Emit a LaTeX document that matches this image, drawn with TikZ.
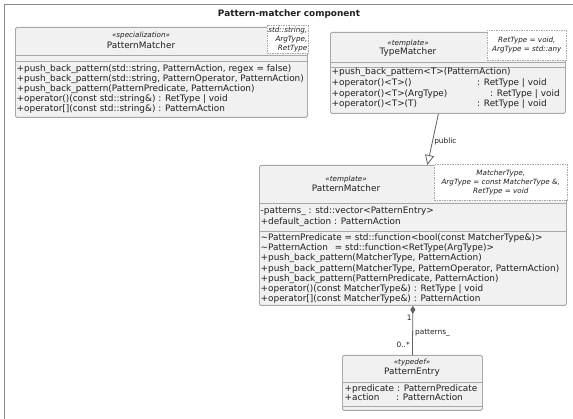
\documentclass[tikz,border=0pt]{standalone}
\usepackage{fontspec}
\setmainfont{DejaVu Sans}
\usepackage{xcolor}
\usepackage{tikz}
\usetikzlibrary{arrows.meta}

\definecolor{boxfill}{HTML}{F1F1F1}
\definecolor{boxline}{HTML}{A8A8A8}
\definecolor{framegray}{HTML}{8A8A8A}
\definecolor{edgegray}{HTML}{606060}
\definecolor{inkgray}{HTML}{202020}

\newcommand{\memfont}{\fontsize{8.9}{10.2}\selectfont}
\newcommand{\stereofont}{\fontsize{7.2}{8}\selectfont\itshape}
\newcommand{\tparamfont}{\fontsize{7.2}{9}\selectfont\itshape}
\newcommand{\edgefont}{\fontsize{7.4}{8}\selectfont}
\newcommand{\titlefont}{\fontsize{8.9}{10}\selectfont\bfseries}

\tikzset{
  classbox/.style={draw=boxline, fill=boxfill, line width=0.8pt, rounded corners=1.5pt, anchor=north west, inner sep=0pt},
  tparam/.style={draw=boxline, fill=white, line width=0.6pt, dash pattern=on 1.5pt off 1pt, anchor=north west, inner xsep=1pt, inner ysep=0pt, font=\tparamfont, text=inkgray},
  sepline/.style={draw=boxline, line width=0.8pt},
  member/.style={anchor=base west, inner sep=0pt, font=\memfont, text=inkgray},
  cname/.style={anchor=base, inner sep=0pt, font=\memfont, text=inkgray},
  stereo/.style={anchor=base, inner sep=0pt, font=\stereofont, text=inkgray},
  edgelabel/.style={inner sep=0pt, font=\edgefont, text=inkgray},
  inherit/.style={draw=edgegray, line width=0.8pt, -{Triangle[open, length=10pt, width=9pt, fill=white]}},
  compos/.style={draw=edgegray, line width=0.8pt, {Diamond[length=8pt, width=5pt]}-},
}

\begin{document}
\begin{tikzpicture}[x=1pt, y=-1pt]
  \useasboundingbox (0,0) rectangle (573,419);
  \clip (0,0) rectangle (573,419);
  \fill[white] (0,0) rectangle (573,419);
  \draw[framegray, line width=1.5pt] (4.5,4.5) rectangle (600,440);
  \node[anchor=base, inner sep=0pt, font=\titlefont, text=inkgray] (title) at (289,16.5) {Pattern-matcher component};

  % specialization
  \node[classbox, minimum width=292pt, minimum height=90pt] (pmspec) at (15,27) {};
  \draw[sepline] (15,55) -- (307,55);
  \draw[sepline] (15,61) -- (307,61);
  \node[tparam, minimum width=41pt, minimum height=28pt, align=right] (pmspecT) at (267,25) {std::string,\\ArgType,\\RetType};
  \node[stereo] (pmspecS) at (141,37.5) {«specialization»};
  \node[cname] (pmspecN) at (141,49) {PatternMatcher};
  \node[member] at (16.5,72) {+push\_back\_pattern(std::string, PatternAction, regex = false)};
  \node[member] at (16.5,82) {+push\_back\_pattern(std::string, PatternOperator, PatternAction)};
  \node[member] at (16.5,92) {+push\_back\_pattern(PatternPredicate, PatternAction)};
  \node[member] at (16.5,102) {+operator()(const std::string\&) : RetType | void};
  \node[member] at (16.5,112) {+operator[](const std::string\&) : PatternAction};

  % TypeMatcher
  \node[classbox, minimum width=235pt, minimum height=81pt] (tmatch) at (330,32) {};
  \draw[sepline] (330,62) -- (565,62);
  \draw[sepline] (330,67) -- (565,67);
  \node[tparam, minimum width=79pt, minimum height=30pt, align=center] (tmatchT) at (487,30) {RetType = void,\\ArgType = std::any};
  \node[stereo] (tmatchS) at (408,45.5) {«template»};
  \node[cname] (tmatchN) at (408,55) {TypeMatcher};
  \node[member] at (331.5,75) {+push\_back\_pattern<T>(PatternAction)};
  \node[member] at (331.5,86) {+operator()<T>()};
  \node[member] at (477,86) {: RetType | void};
  \node[member] at (331.5,97) {+operator()<T>(ArgType)};
  \node[member] at (490,97) {: RetType | void};
  \node[member] at (331.5,107) {+operator()<T>(T)};
  \node[member] at (477,107) {: RetType | void};

  % template PatternMatcher
  \node[classbox, minimum width=307pt, minimum height=140pt] (pmtpl) at (259,165) {};
  \draw[sepline] (259,203) -- (566,203);
  \draw[sepline] (259,231) -- (566,231);
  \node[tparam, minimum width=133pt, minimum height=36pt, align=center] (pmtplT) at (434,164) {MatcherType,\\ArgType = const MatcherType \&,\\RetType = void};
  \node[stereo] (pmtplS) at (346,181.5) {«template»};
  \node[cname] (pmtplN) at (346,192) {PatternMatcher};
  \node[member] at (260.5,214) {-patterns\_ : std::vector<PatternEntry>};
  \node[member] at (260.5,224.5) {+default\_action : PatternAction};
  \node[member] at (260.5,240.5) {\textasciitilde PatternPredicate = std::function<bool(const MatcherType\&)>};
  \node[member] at (260.5,250.7) {\textasciitilde PatternAction\hspace{4pt} = std::function<RetType(ArgType)>};
  \node[member] at (260.5,260.9) {+push\_back\_pattern(MatcherType, PatternAction)};
  \node[member] at (260.5,271.1) {+push\_back\_pattern(MatcherType, PatternOperator, PatternAction)};
  \node[member] at (260.5,281.3) {+push\_back\_pattern(PatternPredicate, PatternAction)};
  \node[member] at (260.5,291.5) {+operator()(const MatcherType\&) : RetType | void};
  \node[member] at (260.5,301.7) {+operator[](const MatcherType\&) : PatternAction};

  % PatternEntry
  \node[classbox, minimum width=140pt, minimum height=55pt] (pentry) at (342,355) {};
  \draw[sepline] (342,382) -- (482,382);
  \draw[sepline] (342,406) -- (482,406);
  \node[stereo] (pentryS) at (412,365) {«typedef»};
  \node[cname] (pentryN) at (412,375) {PatternEntry};
  \node[member] at (344.5,391.5) {+predicate : PatternPredicate};
  \node[member] at (344.5,401) {+action};
  \node[member] at (396,401) {: PatternAction};

  \draw[inherit] ([xshift=-9.5pt]tmatch.south) -- ([xshift=14.5pt]pmtpl.north)
    node[pos=0.55, right=1.5pt, edgelabel] {public};
  \draw[compos] (pmtpl.south) -- (pentry.north);
  \node[edgelabel, anchor=east] at ([xshift=-1pt, yshift=-12pt]pmtpl.south) {1};
  \node[edgelabel, anchor=west] at ([xshift=2pt, yshift=-27pt]pmtpl.south) {patterns\_};
  \node[edgelabel, anchor=east] at ([xshift=-2.5pt, yshift=10pt]pentry.north) {0..*};
\end{tikzpicture}
\end{document}
